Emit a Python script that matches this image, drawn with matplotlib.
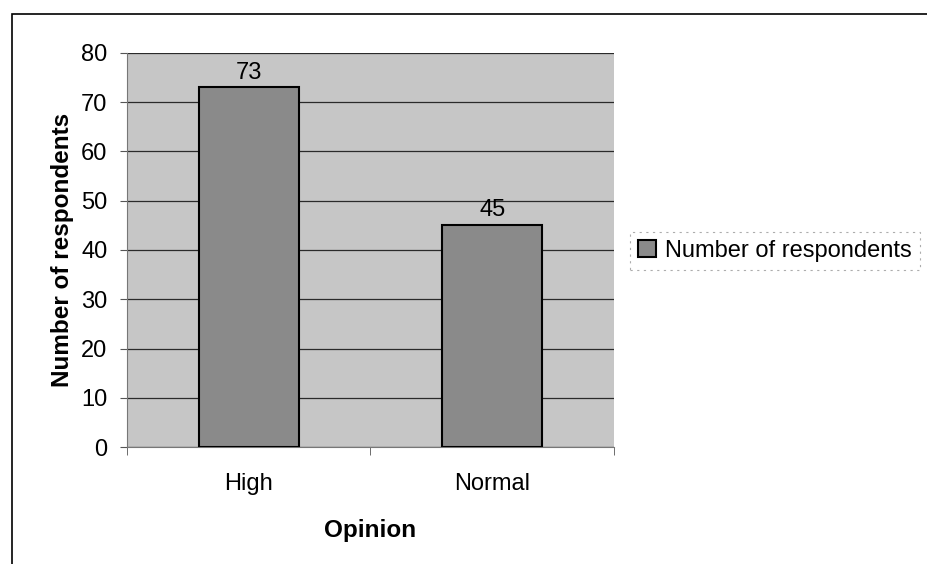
import matplotlib.pyplot as plt
import matplotlib.patches as mpatches
import numpy as np

categories = ['High', 'Normal']
respondents = [73, 45]
yticks = [0, 10, 20, 30, 40, 50, 60, 70, 80]

plt.rcParams['font.family'] = ['Liberation Sans', 'DejaVu Sans']

fig = plt.figure(figsize=(9.28, 5.64), dpi=100)
fig.patch.set_facecolor('white')

# outer chart frame (right and bottom edges run off the picture)
frame = mpatches.Rectangle((12/928, -0.05), 1.1, 1.05 - 14/564, transform=fig.transFigure,
                           fill=False, edgecolor='black', linewidth=1.2)
fig.patches.append(frame)

ax = fig.add_axes([127/928, 1 - 447/564, 487/928, 394/564])
ax.set_facecolor('#c6c6c6')

x = np.arange(len(categories))
bars = ax.bar(x, respondents, width=0.41, color='#8a8a8a', edgecolor='black',
              linewidth=1.5, label='Number of respondents', zorder=3)
for xi, v in zip(x, respondents):
    ax.text(xi, v + 0.8, str(v), ha='center', va='bottom', fontsize=17, zorder=4)

ax.set_xlim(-0.5, 1.5)
ax.set_ylim(0, 80)
ax.set_yticks(yticks)
ax.yaxis.grid(True, color='#2a2a2a', linewidth=0.9, zorder=1)
ax.set_axisbelow(True)

ax.set_xticks(x)
ax.set_xticklabels(categories, fontsize=17)
ax.set_xticks([-0.5, 0.5, 1.5], minor=True)
ax.tick_params(axis='x', which='major', length=0, pad=19)
ax.tick_params(axis='x', which='minor', length=6, direction='out', color='#555555')
ax.tick_params(axis='y', labelsize=17, length=5, color='#555555', pad=9)

for s in ['top', 'right']:
    ax.spines[s].set_visible(False)
ax.spines['left'].set_color('#777777')
ax.spines['bottom'].set_color('#777777')

ax.set_ylabel('Number of respondents', fontsize=17.5, fontweight='bold', labelpad=5)
ax.set_xlabel('Opinion', fontsize=17.5, fontweight='bold', labelpad=17)

leg = fig.legend(loc='center left', bbox_to_anchor=(630/928, 1 - 251/564), fontsize=17,
                 frameon=True, handlelength=0.75, handleheight=0.75, handletextpad=0.4,
                 borderpad=0.35, borderaxespad=0, fancybox=False)
leg.get_frame().set_edgecolor('#999999')
leg.get_frame().set_linestyle((0, (2, 4)))
leg.get_frame().set_linewidth(0.8)

fig.savefig('out.png', dpi=100)
